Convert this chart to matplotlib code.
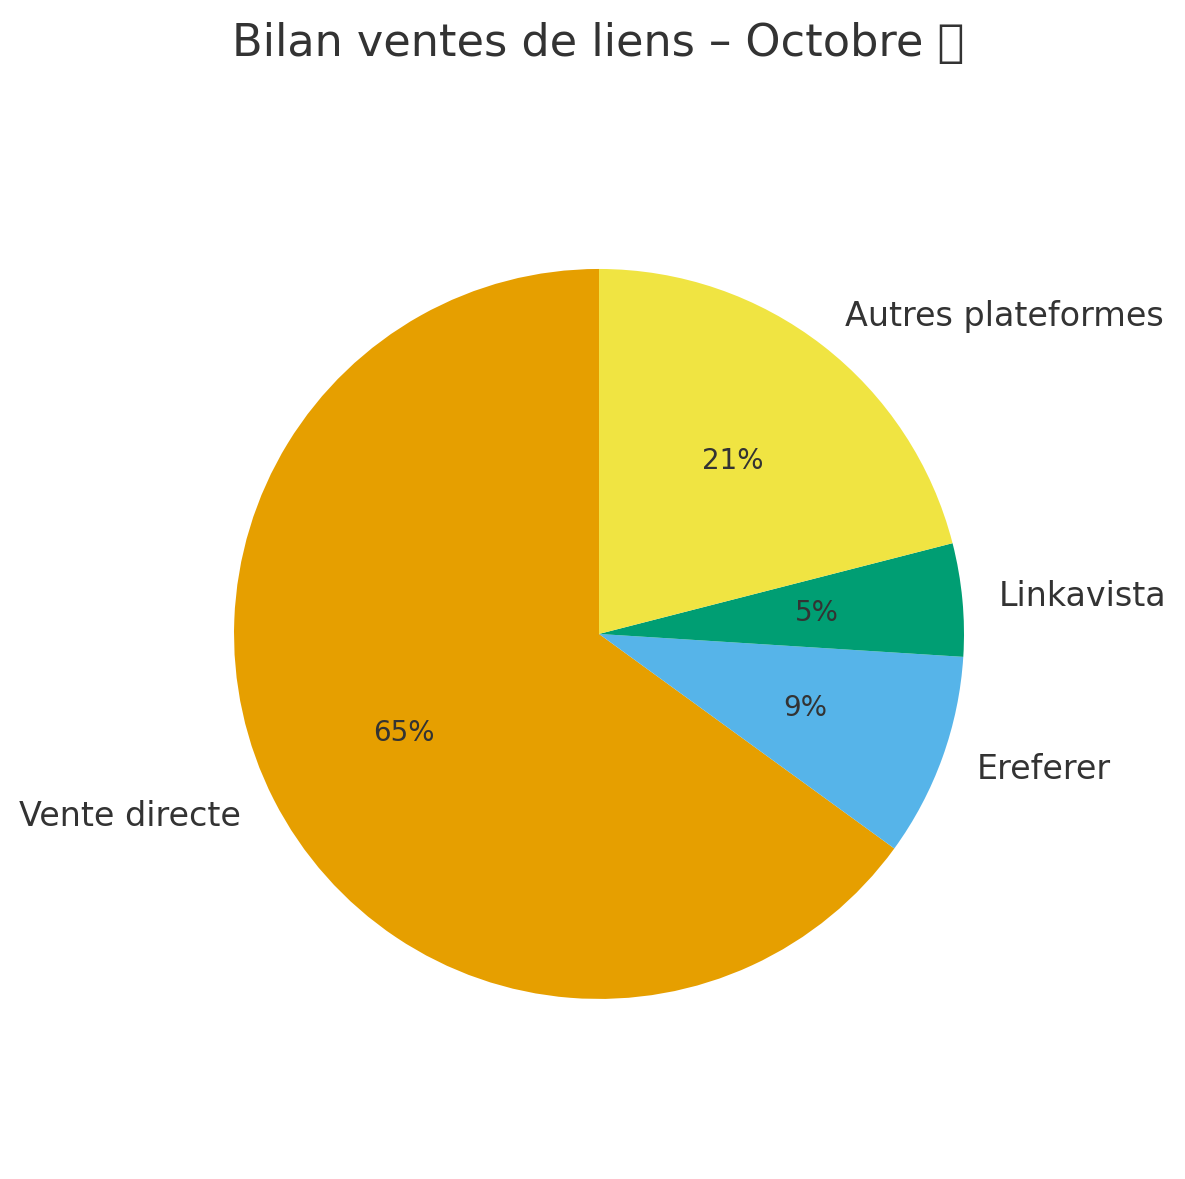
import matplotlib
matplotlib.use("Agg")
import matplotlib.pyplot as plt

# Link sales breakdown for October (percent of total)
labels = ["Vente directe", "Ereferer", "Linkavista", "Autres plateformes"]
shares = [65, 9, 5, 21]
colors = ["#E69F00", "#56B4E9", "#009E73", "#F0E442"]

text_color = "#333333"

fig = plt.figure(figsize=(1185 / 150, 1179 / 150), dpi=150)
ax = fig.add_axes([0.1205, 0.0753, 0.770, 0.774])

wedges, texts, autotexts = ax.pie(
    shares,
    labels=labels,
    colors=colors,
    startangle=90,
    autopct="%1.0f%%",
    textprops={"color": text_color, "fontsize": 16},
)
for t in autotexts:
    t.set_fontsize(13.3)
    t.set_color(text_color)

# emoji has no glyph in the installed fonts (the reference shows a box too)
fig.text(0.505, 1 - 43 / 1179, "Bilan ventes de liens – Octobre 📊",
         ha="center", va="center", fontsize=21.4, color=text_color)

fig.savefig("out.png", dpi=150)
